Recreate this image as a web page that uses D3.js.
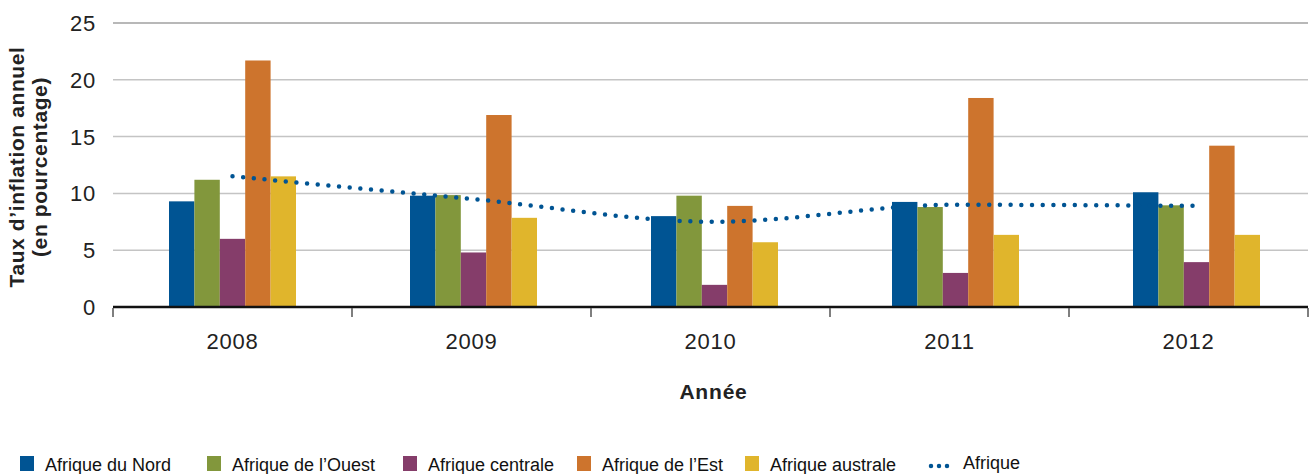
<!DOCTYPE html>
<html><head><meta charset="utf-8">
<script src="https://cdn.jsdelivr.net/npm/d3@7"></script>
<style>
body{margin:0;background:#fff;}
svg{display:block;font-family:"Liberation Sans",Arial,Helvetica,sans-serif;}
</style></head>
<body><svg id="chart" width="1311" height="474"></svg>
<script>
const years = ["2008","2009","2010","2011","2012"];
const seriesNames = ["Afrique du Nord","Afrique de l\u2019Ouest","Afrique centrale","Afrique de l\u2019Est","Afrique australe"];
const afriqueDuNord   = [9.3, 9.8, 8.0, 9.25, 10.1];
const afriqueOuest    = [11.2, 9.85, 9.8, 8.8, 8.95];
const afriqueCentrale = [6.0, 4.8, 1.95, 3.0, 3.95];
const afriqueEst      = [21.7, 16.9, 8.9, 18.4, 14.2];
const afriqueAustrale = [11.5, 7.85, 5.7, 6.35, 6.35];
const afrique         = [11.5, 9.5, 7.5, 9.0, 8.9];
const yTicks = [0,5,10,15,20,25];
const colors = ["#005493","#82973c","#853d6a","#cd742d","#e0b52c"];
const lineColor = "#005493";

const series = [afriqueDuNord, afriqueOuest, afriqueCentrale, afriqueEst, afriqueAustrale];

const svg = d3.select("#chart");
const mLeft = 113, mRight = 1308, mTop = 23, mBottom = 307;

// axis categories
const x = d3.scaleBand().domain(years).range([mLeft, mRight]).paddingInner(0).paddingOuter(0);
// bar groups (slightly different step in the original)
const xBar = d3.scaleBand().domain(years).range([112, 1317]).paddingInner(0).paddingOuter(0);
const inner = d3.scaleBand().domain(d3.range(series.length)).range([0, xBar.bandwidth()]).paddingOuter(2.244).paddingInner(0);
const y = d3.scaleLinear().domain([0,25]).range([mBottom, mTop]);

// gridlines
svg.append("g").selectAll("line").data(yTicks.filter(d=>d>0)).join("line")
  .attr("x1", mLeft).attr("x2", mRight)
  .attr("y1", d=>y(d)).attr("y2", d=>y(d))
  .attr("stroke", d=> d===25 ? "#a0a0a0" : "#c4c4c4").attr("stroke-width",1.5);

// y tick labels
svg.append("g").selectAll("text").data(yTicks).join("text")
  .attr("x", 96).attr("y", d=>y(d)).attr("dy","0.36em")
  .attr("text-anchor","end").attr("font-size",22).attr("letter-spacing","0.8").attr("fill","#222")
  .text(d=>d);

// bars
series.forEach((vals, si) => {
  svg.append("g").selectAll("rect").data(vals).join("rect")
    .attr("x", (d,i)=> xBar(years[i]) + inner(si))
    .attr("width", inner.bandwidth())
    .attr("y", d=>y(d)).attr("height", d=>y(0)-y(d))
    .attr("fill", colors[si]);
});

// x axis
const gx = svg.append("g").attr("transform",`translate(0,${mBottom})`);
gx.append("line").attr("x1",mLeft).attr("x2",mRight).attr("stroke","#111").attr("stroke-width",2.5);
const bounds = years.map(d=>x(d)).concat([mRight]);
gx.selectAll("line.tk").data(bounds).join("line").attr("class","tk")
  .attr("x1",d=>d).attr("x2",d=>d).attr("y1",1).attr("y2",10)
  .attr("stroke","#555").attr("stroke-width",1.5);
gx.selectAll("text.yl").data(years).join("text").attr("class","yl")
  .attr("x", d=>x(d)+x.bandwidth()/2).attr("y", 42)
  .attr("text-anchor","middle").attr("font-size",22).attr("letter-spacing","0.8").attr("fill","#222")
  .text(d=>d);

// line Afrique
const line = d3.line()
  .x((d,i)=> xBar(years[i]) + xBar.bandwidth()/2)
  .y(d=>y(d))
  .curve(d3.curveMonotoneX);
svg.append("path").datum(afrique).attr("d", line)
  .attr("fill","none").attr("stroke",lineColor).attr("stroke-width",4.5)
  .attr("stroke-linecap","round").attr("stroke-dasharray","0 10.7");

// axis titles
svg.append("text").attr("x",(mLeft+mRight)/2 + 3).attr("y",399)
  .attr("text-anchor","middle").attr("font-size",21).attr("letter-spacing","0.8").attr("font-weight","bold").attr("fill","#222")
  .text("Année");
const yt = svg.append("text").attr("transform","translate(0,167) rotate(-90)")
  .attr("text-anchor","middle").attr("font-size",21).attr("letter-spacing","0.6").attr("font-weight","bold").attr("fill","#222");
yt.append("tspan").attr("x",0).attr("y",24).text("Taux d\u2019inflation annuel");
yt.append("tspan").attr("x",0).attr("y",47).text("(en pourcentage)");

// legend
const legX = [20, 207, 403, 577, 745];
const lg = svg.append("g");
seriesNames.forEach((n,i)=>{
  lg.append("rect").attr("x",legX[i]).attr("y",456).attr("width",14).attr("height",15).attr("fill",colors[i]);
  lg.append("text").attr("x",legX[i]+25).attr("y",471).attr("font-size",18).attr("fill","#111").text(n);
});
lg.append("line").attr("x1",931).attr("x2",953).attr("y1",466).attr("y2",466)
  .attr("stroke",lineColor).attr("stroke-width",4.5).attr("stroke-linecap","round").attr("stroke-dasharray","0 8");
lg.append("text").attr("x",963).attr("y",469).attr("font-size",18).attr("fill","#111").text("Afrique");
</script></body></html>
